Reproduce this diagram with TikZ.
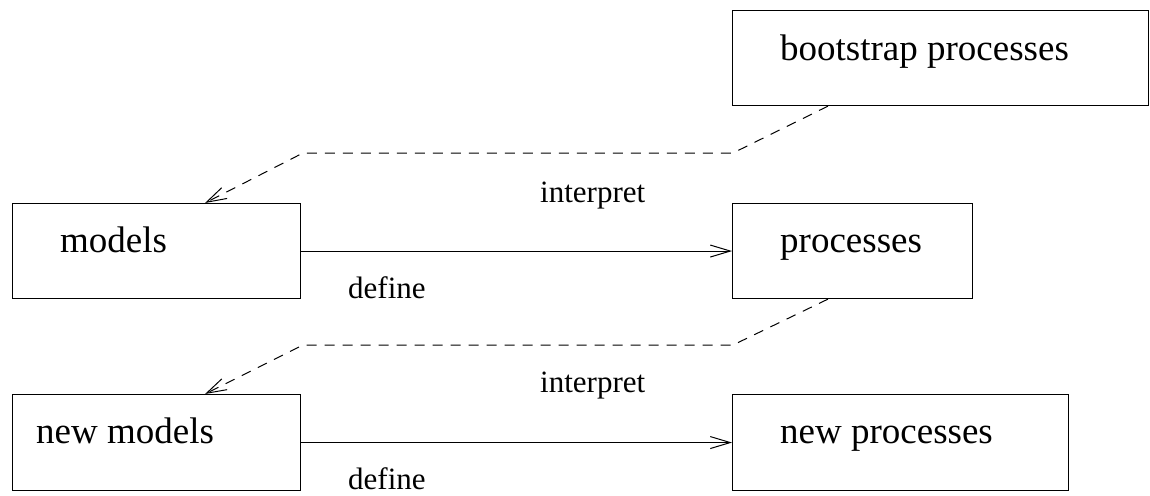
\documentclass[tikz,border=0pt]{standalone}
\usepackage{fontspec}
\setmainfont{Liberation Serif}
\usetikzlibrary{arrows.meta}
\begin{document}
\begin{tikzpicture}[x=1pt, y=-1pt,
  box/.style={draw, line width=1.1pt, rectangle, inner sep=0pt, anchor=north west},
  boxtext/.style={anchor=base west, inner sep=0pt, font=\fontsize{37}{40}\selectfont},
  lab/.style={anchor=base west, inner sep=0pt, font=\fontsize{31}{34}\selectfont},
  tip/.style={-{Straight Barb[length=20pt, width=12pt]}},
  flow/.style={line width=1pt, tip},
  feed/.style={line width=1pt, dash pattern=on 10pt off 8pt, tip}]
  \useasboundingbox (0,0) rectangle (1150,495);

  % boxes
  \node[box, minimum width=416pt, minimum height=95pt] (boot) at (732,10) {};
  \node[box, minimum width=288pt, minimum height=95pt] (models) at (12,203) {};
  \node[box, minimum width=240pt, minimum height=95pt] (proc) at (732,203) {};
  \node[box, minimum width=288pt, minimum height=96pt] (newmodels) at (12,394) {};
  \node[box, minimum width=336pt, minimum height=96pt] (newproc) at (732,394) {};

  % box texts
  \node[boxtext] (boot-t) at (780,60) {bootstrap processes};
  \node[boxtext] (models-t) at (60,252) {models};
  \node[boxtext] (proc-t) at (780,252) {processes};
  \node[boxtext] (newmodels-t) at (36,443) {new models};
  \node[boxtext] (newproc-t) at (780,443) {new processes};

  % define arrows
  \draw[flow] (models) -- (proc);
  \draw[flow] (newmodels) -- (newproc);

  % interpret arrows
  \coordinate (k1) at (733,153);
  \coordinate (k2) at (303,153);
  \coordinate (k3) at (733,345);
  \coordinate (k4) at (303,345);
  \draw[feed] ([xshift=96pt]boot.south west) -- (k1) -- (k2) -- ([xshift=193pt]models.north west);
  \draw[feed] ([xshift=96pt]proc.south west) -- (k3) -- (k4) -- ([xshift=193pt]newmodels.north west);

  % labels
  \node[lab] (int1) at (540,202) {interpret};
  \node[lab] (def1) at (348,298) {define};
  \node[lab] (int2) at (540,392) {interpret};
  \node[lab] (def2) at (348,489) {define};
\end{tikzpicture}
\end{document}
